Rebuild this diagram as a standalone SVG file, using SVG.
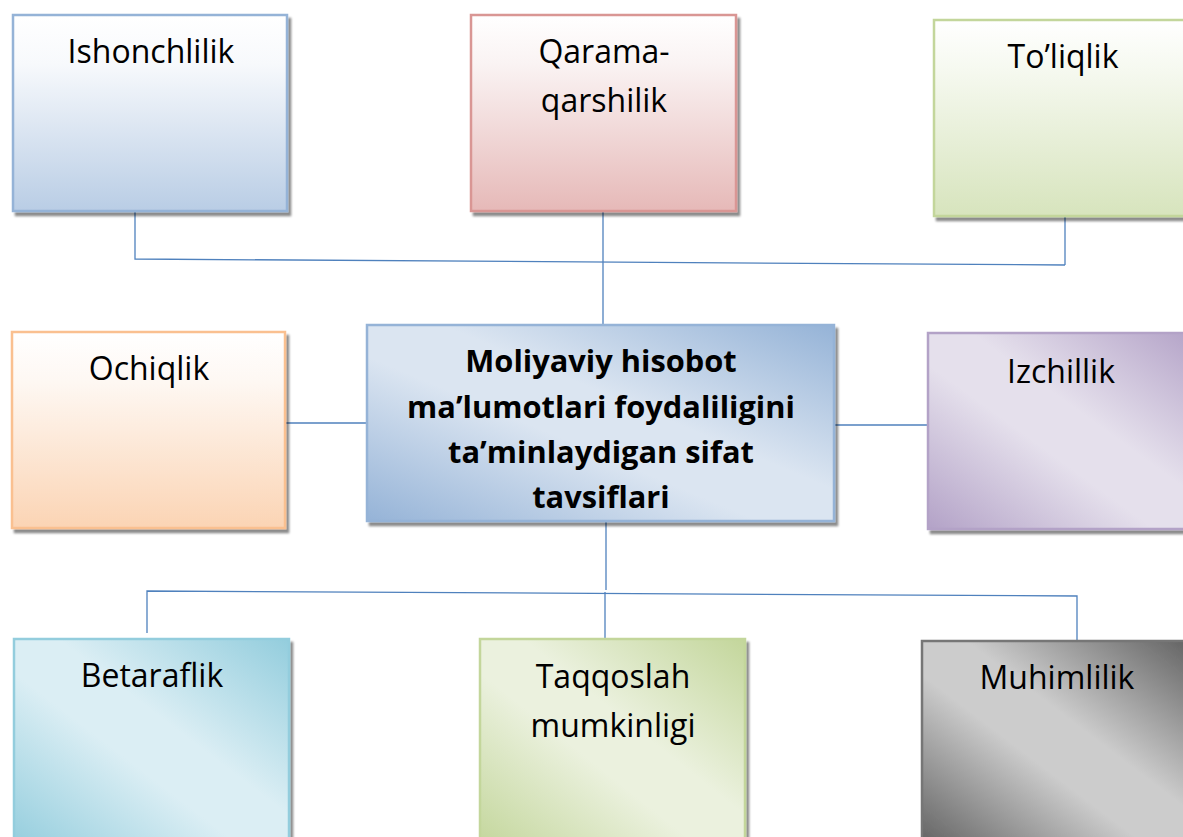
<svg xmlns="http://www.w3.org/2000/svg" width="1183" height="837" viewBox="0 0 1183 837">
<defs>
<style>
.lbl{font-family:"Open Sans","Liberation Sans",sans-serif;font-size:32px;fill:#000;text-anchor:middle}
.ttl{font-family:"Open Sans","Liberation Sans",sans-serif;font-size:30.8px;font-weight:bold;fill:#000;text-anchor:middle}
.box{stroke-width:2.5;filter:url(#sh)}
.conn{stroke:#4f81bd;stroke-width:1.3;fill:none}
</style>
<filter id="sh" x="-5%" y="-5%" width="115%" height="115%">
<feDropShadow dx="3" dy="4" stdDeviation="0.8" flood-color="#000" flood-opacity="0.45"/>
</filter>
<linearGradient id="gBlue" x1="0" y1="0" x2="0" y2="1">
<stop offset="0" stop-color="#ffffff"/><stop offset="0.25" stop-color="#f7f9fc"/><stop offset="1" stop-color="#b9cde5"/>
</linearGradient>
<linearGradient id="gRed" x1="0" y1="0" x2="0" y2="1">
<stop offset="0" stop-color="#ffffff"/><stop offset="0.25" stop-color="#faf3f3"/><stop offset="1" stop-color="#e6b9b8"/>
</linearGradient>
<linearGradient id="gGreen" x1="0" y1="0" x2="0" y2="1">
<stop offset="0" stop-color="#ffffff"/><stop offset="0.25" stop-color="#f6f9f0"/><stop offset="1" stop-color="#d7e4bd"/>
</linearGradient>
<linearGradient id="gOrange" x1="0" y1="0" x2="0" y2="1">
<stop offset="0" stop-color="#ffffff"/><stop offset="0.25" stop-color="#fef8f3"/><stop offset="1" stop-color="#fbd4b4"/>
</linearGradient>
<linearGradient id="dBlue" x1="1" y1="0" x2="0" y2="1">
<stop offset="0" stop-color="#95b3d7"/><stop offset="0.42" stop-color="#dbe5f1"/><stop offset="0.58" stop-color="#dbe5f1"/><stop offset="1" stop-color="#95b3d7"/>
</linearGradient>
<linearGradient id="dPurple" x1="1" y1="0" x2="0" y2="1">
<stop offset="0" stop-color="#b3a2c7"/><stop offset="0.42" stop-color="#e5e0ec"/><stop offset="0.58" stop-color="#e5e0ec"/><stop offset="1" stop-color="#b3a2c7"/>
</linearGradient>
<linearGradient id="dTeal" x1="1" y1="0" x2="0" y2="1">
<stop offset="0" stop-color="#93cddd"/><stop offset="0.42" stop-color="#dbeef4"/><stop offset="0.58" stop-color="#dbeef4"/><stop offset="1" stop-color="#93cddd"/>
</linearGradient>
<linearGradient id="dGreen" x1="1" y1="0" x2="0" y2="1">
<stop offset="0" stop-color="#c3d69b"/><stop offset="0.42" stop-color="#ebf1de"/><stop offset="0.58" stop-color="#ebf1de"/><stop offset="1" stop-color="#c3d69b"/>
</linearGradient>
<linearGradient id="dGray" x1="1" y1="0" x2="0" y2="1">
<stop offset="0" stop-color="#5f5f5f"/><stop offset="0.42" stop-color="#cccccc"/><stop offset="0.58" stop-color="#cccccc"/><stop offset="1" stop-color="#5f5f5f"/>
</linearGradient>
</defs>
<rect width="1183" height="837" fill="#ffffff"/>

<g id="connectors">
<path class="conn" d="M135 211 V259 L1065 265"/>
<path class="conn" d="M1065 217 V265"/>
<path class="conn" d="M603 212 V325"/>
<path class="conn" d="M285 423 H369"/>
<path class="conn" d="M834 425 H928"/>
<path class="conn" d="M606 521 V590"/>
<path class="conn" d="M147 633 V591 L1077 596 V641"/>
<path class="conn" d="M605 592 V639"/>
</g>

<g id="ishonchlilik">
<rect class="box" x="13" y="15" width="274" height="196" fill="url(#gBlue)" stroke="#95b3d7"/>
<text class="lbl" x="151" y="63">Ishonchlilik</text>
</g>
<g id="qarama-qarshilik">
<rect class="box" x="471" y="15" width="265" height="196" fill="url(#gRed)" stroke="#d99694"/>
<text class="lbl" x="604" y="63">Qarama-</text>
<text class="lbl" x="604" y="112">qarshilik</text>
</g>
<g id="toliqlik">
<rect class="box" x="934" y="20" width="270" height="196" fill="url(#gGreen)" stroke="#c3d69b"/>
<text class="lbl" x="1063" y="68">To’liqlik</text>
</g>
<g id="ochiqlik">
<rect class="box" x="12" y="332" width="273" height="196" fill="url(#gOrange)" stroke="#fac090"/>
<text class="lbl" x="149" y="380">Ochiqlik</text>
</g>
<g id="center">
<rect class="box" x="367" y="325" width="467" height="196" fill="url(#dBlue)" stroke="#95b3d7"/>
<text class="ttl" x="601" y="372">Moliyaviy hisobot</text>
<text class="ttl" x="601" y="418">ma’lumotlari foydaliligini</text>
<text class="ttl" x="601" y="463">ta’minlaydigan sifat</text>
<text class="ttl" x="601" y="508">tavsiflari</text>
</g>
<g id="izchillik">
<rect class="box" x="928" y="333" width="270" height="196" fill="url(#dPurple)" stroke="#b3a2c7"/>
<text class="lbl" x="1061" y="383">Izchillik</text>
</g>
<g id="betaraflik">
<rect class="box" x="14" y="639" width="275" height="210" fill="url(#dTeal)" stroke="#93cddd"/>
<text class="lbl" x="152" y="687">Betaraflik</text>
</g>
<g id="taqqoslah">
<rect class="box" x="480" y="639" width="265" height="210" fill="url(#dGreen)" stroke="#c3d69b"/>
<text class="lbl" x="613" y="688">Taqqoslah</text>
<text class="lbl" x="613" y="737">mumkinligi</text>
</g>
<g id="muhimlilik">
<rect class="box" x="922" y="641" width="276" height="210" fill="url(#dGray)" stroke="#767676"/>
<text class="lbl" x="1057" y="689">Muhimlilik</text>
</g>
</svg>
